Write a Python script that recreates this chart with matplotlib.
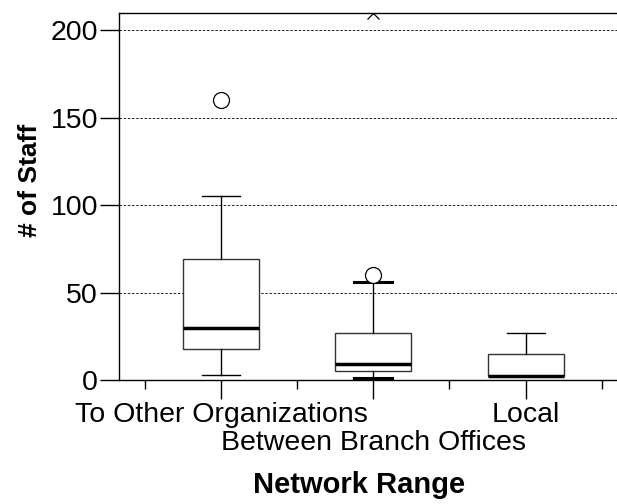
import matplotlib
matplotlib.use('Agg')
import matplotlib.pyplot as plt
from matplotlib.ticker import FixedLocator

plt.rcParams['font.family'] = ['Liberation Sans', 'DejaVu Sans']

categories = ['To Other Organizations', 'Between Branch Offices', 'Local']
q1 = [18, 5, 2.5]
medians = [30, 9, 2.5]
q3 = [69, 27, 15]
whislo = [3, 1, 2.5]
whishi = [105, 56, 27]
outliers = [[160], [60], []]
extremes = [[], [210], []]
yticks = [0, 50, 100, 150, 200]

fig = plt.figure(figsize=(6.17, 5.04), dpi=100)
ax = fig.add_axes([119 / 617, 1 - 380 / 504, 1 - 119 / 617, (380 - 13) / 504])

positions = [1, 2, 3]
stats = []
for i in range(len(categories)):
    stats.append(dict(med=medians[i], q1=q1[i], q3=q3[i],
                      whislo=whislo[i], whishi=whishi[i], fliers=[]))

res = ax.bxp(stats, positions=positions, widths=0.5, showfliers=False,
             patch_artist=True,
             boxprops=dict(facecolor='white', edgecolor='#333333', linewidth=1.0),
             medianprops=dict(color='black', linewidth=2.5),
             whiskerprops=dict(color='black', linewidth=1.0),
             capprops=dict(color='black', linewidth=1.0),
             capwidths=0.25)
# thicker caps on the second box
for c in res['caps'][2:4]:
    c.set_linewidth(2.2)

for i, pos in enumerate(positions):
    if outliers[i]:
        ax.plot([pos] * len(outliers[i]), outliers[i], linestyle='none', marker='o',
                markersize=11.5, markerfacecolor='white', markeredgecolor='black',
                markeredgewidth=0.9, zorder=4)
    if extremes[i]:
        ax.plot([pos] * len(extremes[i]), extremes[i], linestyle='none', marker='x',
                markersize=8, color='black', markeredgewidth=0.9, zorder=4)

ax.set_ylim(0, 210)
ax.set_xlim(0.33, 3.6)

ax.set_yticks(yticks)
ax.yaxis.grid(True, linestyle=(0, (3, 2)), color='black', linewidth=0.6)
ax.set_axisbelow(True)

ax.xaxis.set_major_locator(FixedLocator(positions))
ax.set_xticklabels(categories)
ax.xaxis.set_minor_locator(FixedLocator([0.5, 1.5, 2.5, 3.5]))

ax.tick_params(axis='y', direction='out', length=13.7, width=1, pad=1.5,
               labelsize=20.5, colors='black')
ax.tick_params(axis='x', which='major', direction='out', length=13.7, width=1,
               pad=2, labelsize=20.5)
ax.tick_params(axis='x', which='minor', direction='out', length=6.5, width=1)

ticks = ax.xaxis.get_major_ticks()
ticks[1].tick1line.set_markersize(34)
ticks[1].set_pad(2 + 34 - 13.7)

for s in ['left', 'bottom', 'top']:
    ax.spines[s].set_linewidth(1.0)
    ax.spines[s].set_color('black')
ax.spines['right'].set_visible(False)

fig.text(30 / 617, 1 - 180 / 504, '# of Staff', rotation=90, ha='center',
         va='center', fontsize=19, fontweight='bold')
fig.text(359 / 617, 1 - 485 / 504, 'Network Range', ha='center', va='center',
         fontsize=21, fontweight='bold')

fig.savefig('out.png', dpi=100)
